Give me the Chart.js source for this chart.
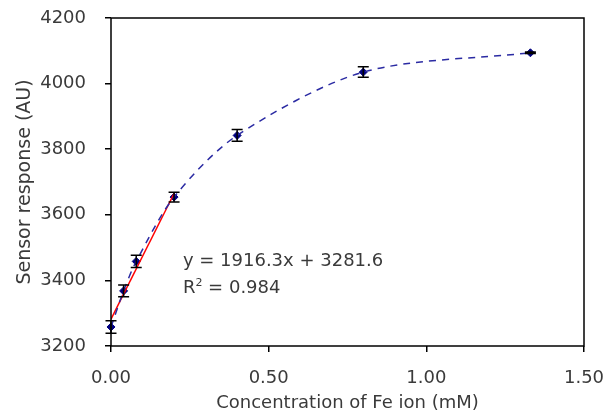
<!DOCTYPE html>
<html>
<head>
<meta charset="utf-8">
<script src="https://cdn.jsdelivr.net/npm/chart.js@4"></script>
<style>
  body { margin: 0; background: #fff; }
</style>
</head>
<body>
<canvas id="chart" width="605" height="415"></canvas>
<script>
// concentration of Fe ion (mM)
const conc = [0.00, 0.04, 0.08, 0.20, 0.40, 0.80, 1.33];
// sensor response (AU)
const response = [3258, 3368, 3458, 3654, 3842, 4035, 4094];
// +/- error bar half-height
const errors = [19, 18, 19, 15, 18, 16, 2];

// linear fit of the low range
const fitSlope = 1916.3;
const fitIntercept = 3281.6;
const fitRange = [0.00, 0.20];
const eqLine1 = 'y = 1916.3x + 3281.6';
const eqLine2 = ' = 0.984';

const xTicks = [0, 0.5, 1.0, 1.5];
const yTicks = [3200, 3400, 3600, 3800, 4000, 4200];

const textColor = '#3a3a3a';
const fontFamily = '"DejaVu Sans", sans-serif';

const curvePts = conc.map((x, i) => ({ x: x, y: response[i] }));
const fitPts = fitRange.map(x => ({ x: x, y: fitSlope * x + fitIntercept }));

// frame round the plot area
const framePlugin = {
    id: 'frame',
    afterDraw(chart) {
        const { ctx, chartArea: a } = chart;
        ctx.save();
        ctx.strokeStyle = '#000';
        ctx.lineWidth = 1.5;
        ctx.strokeRect(a.left, a.top, a.right - a.left, a.bottom - a.top);
        ctx.restore();
    }
};

// vertical error bars with caps
const errorBarPlugin = {
    id: 'errorBars',
    afterDatasetsDraw(chart) {
        const { ctx, scales: { x, y } } = chart;
        ctx.save();
        ctx.strokeStyle = '#000';
        ctx.lineWidth = 1.5;
        conc.forEach((c, i) => {
            const px = x.getPixelForValue(c);
            const top = y.getPixelForValue(response[i] + errors[i]);
            const bot = y.getPixelForValue(response[i] - errors[i]);
            ctx.beginPath();
            ctx.moveTo(px, top); ctx.lineTo(px, bot);
            ctx.moveTo(px - 5.5, top); ctx.lineTo(px + 5.5, top);
            ctx.moveTo(px - 5.5, bot); ctx.lineTo(px + 5.5, bot);
            ctx.stroke();
        });
        ctx.restore();
    }
};

// equation and R squared
const equationPlugin = {
    id: 'equation',
    afterDraw(chart) {
        const { ctx, scales: { x, y } } = chart;
        const px = x.getPixelForValue(0.228);
        const py1 = y.getPixelForValue(3445);
        const py2 = y.getPixelForValue(3362);
        ctx.save();
        ctx.fillStyle = textColor;
        ctx.textBaseline = 'alphabetic';
        ctx.textAlign = 'left';
        ctx.font = '18px ' + fontFamily;
        ctx.fillText(eqLine1, px, py1);
        ctx.fillText('R', px, py2);
        let w = ctx.measureText('R').width;
        ctx.font = '11px ' + fontFamily;
        ctx.fillText('2', px + w, py2 - 7);
        w += ctx.measureText('2').width;
        ctx.font = '18px ' + fontFamily;
        ctx.fillText(eqLine2, px + w, py2);
        ctx.restore();
    }
};

new Chart(document.getElementById('chart'), {
    type: 'scatter',
    data: {
        datasets: [
            {
                label: 'curve',
                data: curvePts,
                showLine: true,
                tension: 0.3,
                borderColor: '#2b2ba3',
                borderWidth: 1.5,
                borderDash: [7, 6],
                pointRadius: 0,
                fill: false
            },
            {
                label: 'fit',
                data: fitPts,
                showLine: true,
                tension: 0,
                borderColor: '#ff0000',
                borderWidth: 1.5,
                pointRadius: 0,
                fill: false
            },
            {
                label: 'points',
                data: curvePts,
                showLine: false,
                pointStyle: 'rectRot',
                pointRadius: 4,
                backgroundColor: '#000080',
                borderColor: '#000080',
                borderWidth: 1,
                clip: false
            }
        ]
    },
    options: {
        responsive: false,
        animation: false,
        layout: { padding: { top: 18, right: 21, left: 0, bottom: 0 } },
        plugins: {
            legend: { display: false },
            tooltip: { enabled: false }
        },
        scales: {
            x: {
                type: 'linear',
                min: 0,
                max: 1.5,
                afterFit: (s) => { s.height = 69; s.paddingLeft = 0; s.paddingRight = 0; },
                afterBuildTicks: (s) => { s.ticks = xTicks.map(v => ({ value: v })); },
                border: { display: false },
                grid: {
                    drawOnChartArea: false,
                    drawTicks: true,
                    tickLength: 6,
                    color: '#000',
                    lineWidth: 1.5
                },
                ticks: {
                    color: textColor,
                    padding: 16,
                    font: { family: fontFamily, size: 18 },
                    callback: (v) => Number(v).toFixed(2)
                },
                title: {
                    display: true,
                    text: 'Concentration of Fe ion (mM)',
                    color: textColor,
                    font: { family: fontFamily, size: 18 },
                    padding: { top: 0, bottom: 1 }
                }
            },
            y: {
                type: 'linear',
                min: 3200,
                max: 4200,
                afterFit: (s) => { s.width = 111; s.paddingTop = 0; s.paddingBottom = 0; },
                afterBuildTicks: (s) => { s.ticks = yTicks.map(v => ({ value: v })); },
                border: { display: false },
                grid: {
                    drawOnChartArea: false,
                    drawTicks: true,
                    tickLength: 6,
                    color: '#000',
                    lineWidth: 1.5
                },
                ticks: {
                    color: textColor,
                    padding: 19,
                    font: { family: fontFamily, size: 18 },
                    callback: (v) => String(v)
                },
                title: {
                    display: true,
                    text: 'Sensor response (AU)',
                    color: textColor,
                    font: { family: fontFamily, size: 19 },
                    padding: { top: 14, bottom: 0 }
                }
            }
        }
    },
    plugins: [framePlugin, errorBarPlugin, equationPlugin]
});
</script>
</body>
</html>
